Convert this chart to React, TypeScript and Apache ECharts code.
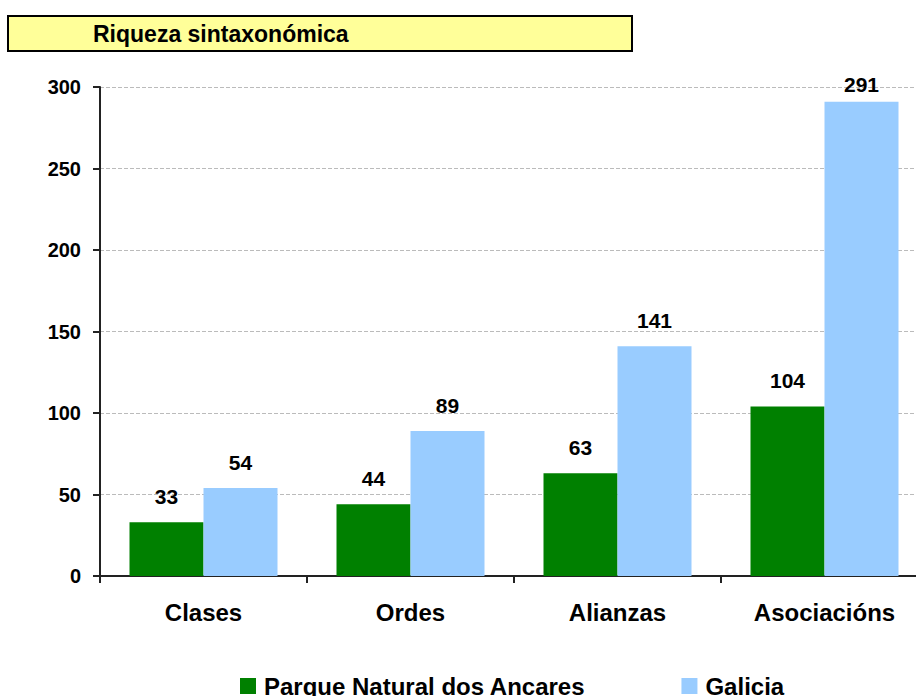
import React, { useEffect, useRef } from "react";
import * as echarts from "echarts";

const categories = ["Clases", "Ordes", "Alianzas", "Asociacións"];
const parqueValues = [33, 44, 63, 104];
const galiciaValues = [54, 89, 141, 291];
const seriesNames = ["Parque Natural dos Ancares", "Galicia"];
const titleText = "Riqueza sintaxonómica";

const FONT = '"Liberation Sans", Arial, sans-serif';

export default function App() {
  const ref = useRef<HTMLDivElement>(null);
  useEffect(() => {
    if (!ref.current) return;
    const chart = echarts.init(ref.current, null, { renderer: "svg" });
    const labelStyle = {
      show: true,
      position: "top",
      distance: 15,
      fontFamily: FONT,
      fontWeight: "bold",
      fontSize: 21,
      color: "#000",
    };
    chart.setOption({
      animation: false,
      backgroundColor: "#fff",
      graphic: [
        {
          type: "rect",
          shape: { x: 8, y: 16, width: 624, height: 35 },
          style: { fill: "#FFFF99", stroke: "#000", lineWidth: 2 },
        },
        {
          type: "text",
          x: 93,
          y: 34,
          style: {
            text: titleText,
            fontFamily: FONT,
            fontWeight: "bold",
            fontSize: 23,
            fill: "#000",
            verticalAlign: "middle",
          },
        },
      ],
      legend: {
        left: 240,
        top: 674,
        padding: 0,
        itemWidth: 16,
        itemHeight: 16,
        itemGap: 96,
        icon: "rect",
        textStyle: {
          fontFamily: FONT,
          fontWeight: "bold",
          fontSize: 24,
          lineHeight: 24,
          color: "#000",
          padding: [0, 0, 0, 3],
        },
        data: seriesNames,
      },
      grid: { left: 100, right: 0, top: 87, bottom: 120, containLabel: false },
      xAxis: {
        type: "category",
        data: categories,
        axisLine: { show: true, lineStyle: { color: "#222", width: 2 } },
        axisTick: { show: true, length: 7, lineStyle: { color: "#222", width: 2 } },
        axisLabel: {
          margin: 24,
          fontFamily: FONT,
          fontWeight: "bold",
          fontSize: 24,
          color: "#000",
        },
      },
      yAxis: {
        type: "value",
        min: 0,
        max: 300,
        interval: 50,
        axisLine: { show: true, lineStyle: { color: "#222", width: 2 } },
        axisTick: { show: true, length: 7, lineStyle: { color: "#222", width: 2 } },
        splitLine: { show: true, lineStyle: { color: "#bbb", type: "dashed", width: 1 } },
        axisLabel: {
          margin: 19,
          fontFamily: FONT,
          fontWeight: "bold",
          fontSize: 20,
          color: "#000",
        },
      },
      series: [
        {
          name: seriesNames[0],
          type: "bar",
          data: parqueValues,
          barWidth: 74,
          barGap: "0%",
          itemStyle: { color: "#008000" },
          label: labelStyle,
        },
        {
          name: seriesNames[1],
          type: "bar",
          data: galiciaValues.map((v, i) =>
            i === galiciaValues.length - 1 ? { value: v, label: { distance: 7 } } : v
          ),
          barWidth: 74,
          barGap: "0%",
          itemStyle: { color: "#99CCFF" },
          label: labelStyle,
        },
      ],
    });
    return () => chart.dispose();
  }, []);
  return (
    <div
      style={{
        position: "absolute",
        left: 0,
        top: 0,
        width: 916,
        height: 696,
        overflow: "hidden",
        background: "#fff",
      }}
    >
      <div ref={ref} style={{ width: 928, height: 696 }} />
    </div>
  );
}
